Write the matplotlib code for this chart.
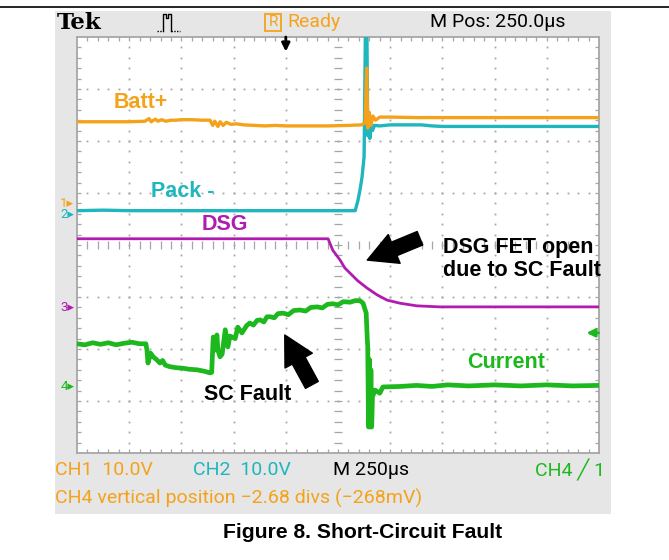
import numpy as np
import matplotlib
matplotlib.use("Agg")
import matplotlib.pyplot as plt
from matplotlib.patches import FancyArrowPatch, Rectangle, ArrowStyle
from matplotlib.lines import Line2D

# ---------------- data (x, y in scope divisions) ----------------
batt_x = [0, 0.5, 1.0, 1.3, 1.38, 1.42, 1.5, 1.55, 1.62, 1.7, 1.8, 1.9, 2.0, 2.2, 2.4,
          2.55, 2.6, 2.64, 2.7, 2.74, 2.8, 2.86, 2.95, 3.05, 3.2, 3.4, 3.6, 3.8, 4.0,
          4.4, 4.8, 5.2, 5.45, 5.52, 5.55, 5.57, 5.6, 5.63, 5.67, 5.72, 5.8, 6.0, 6.5,
          7.0, 8.0, 9.0, 10.0]
batt_y = [6.37, 6.37, 6.37, 6.38, 6.43, 6.37, 6.42, 6.38, 6.41, 6.38, 6.40, 6.40, 6.41,
          6.41, 6.40, 6.40, 6.30, 6.38, 6.28, 6.37, 6.30, 6.36, 6.32, 6.33, 6.31, 6.30,
          6.29, 6.30, 6.29, 6.29, 6.29, 6.30, 6.31, 6.35, 7.40, 6.25, 6.55, 6.30, 6.48,
          6.40, 6.46, 6.46, 6.45, 6.45, 6.45, 6.45, 6.45]

pack_x = [0, 0.5, 1.0, 2.0, 3.0, 4.0, 5.0, 5.33, 5.38, 5.42, 5.46, 5.5, 5.53, 5.55,
          5.57, 5.59, 5.61, 5.63, 5.66, 5.7, 5.8, 6.0, 6.6, 6.8, 7.0, 8.0, 10.0]
pack_y = [4.66, 4.67, 4.66, 4.66, 4.66, 4.66, 4.66, 4.66, 4.85, 5.05, 5.3, 5.7, 8.6,
          8.6, 6.1, 6.5, 6.05, 6.4, 6.2, 6.3, 6.29, 6.31, 6.31, 6.29, 6.28, 6.28, 6.28]

dsg_x = [0, 1, 2, 3, 4, 4.5, 4.81, 4.90, 5.04, 5.13, 5.23, 5.38, 5.56, 5.75, 5.94,
         6.19, 6.51, 6.95, 8, 9, 10]
dsg_y = [4.12, 4.12, 4.12, 4.12, 4.12, 4.12, 4.12, 3.90, 3.71, 3.56, 3.46, 3.31, 3.17,
         3.04, 2.94, 2.88, 2.83, 2.81, 2.81, 2.81, 2.81]

cur_x = [0, 0.15, 0.3, 0.45, 0.6, 0.75, 0.9, 1.05, 1.2, 1.32, 1.34, 1.36, 1.41, 1.46,
         1.53, 1.59, 1.64, 1.69, 1.78, 1.9, 2.03, 2.15, 2.30, 2.45, 2.55, 2.58, 2.61,
         2.65, 2.68, 2.70, 2.74, 2.78, 2.84, 2.89, 2.93, 2.97, 3.03, 3.08, 3.16, 3.25,
         3.31, 3.38, 3.45, 3.51, 3.58, 3.64, 3.70, 3.78, 3.85, 3.95, 4.05, 4.15, 4.27,
         4.38, 4.48, 4.60, 4.70, 4.80, 4.90, 5.0, 5.1, 5.23, 5.33, 5.42, 5.48, 5.54,
         5.56, 5.57, 5.585, 5.60, 5.615, 5.63, 5.645, 5.66, 5.71, 5.80, 5.86, 6.2,
         6.5, 6.8, 7.1, 7.5, 8.0, 8.5, 9.0, 9.5, 10.0]
cur_y = [2.10, 2.08, 2.12, 2.09, 2.12, 2.08, 2.11, 2.13, 2.10, 2.10, 1.98, 1.73, 1.92,
         1.85, 1.79, 1.73, 1.78, 1.69, 1.66, 1.64, 1.63, 1.61, 1.60, 1.57, 1.54, 1.55,
         2.23, 1.98, 2.27, 1.98, 1.85, 1.90, 2.37, 2.04, 2.25, 2.23, 2.20, 2.42, 2.31,
         2.45, 2.50, 2.46, 2.55, 2.56, 2.52, 2.62, 2.62, 2.60, 2.68, 2.69, 2.66, 2.74,
         2.75, 2.73, 2.80, 2.81, 2.79, 2.86, 2.87, 2.85, 2.91, 2.90, 2.93, 2.93, 2.88,
         2.69, 2.21, 2.04, 0.50, 1.8, 0.5, 1.6, 0.5, 1.08, 1.21, 1.15, 1.27, 1.28,
         1.30, 1.28, 1.31, 1.29, 1.31, 1.29, 1.31, 1.29, 1.30]

channel_labels = ["1", "2", "3", "4"]
channel_levels = [4.80, 4.58, 2.79, 1.27]
trigger_level = 2.31
trigger_pos = 4.0

header_texts = ["Tek", "Ready", "M Pos: 250.0\u00b5s"]
footer_texts = ["CH1  10.0V", "CH2  10.0V", "M 250\u00b5s", "CH4 \u2571 1"]
status_text = "CH4 vertical position \u22122.68 divs (\u2212268mV)"
caption = "Figure 8. Short-Circuit Fault"

# ---------------- style ----------------
ORANGE = "#f5a21b"
CYAN = "#1fb6be"
MAGENTA = "#b01cb0"
GREEN = "#1db81d"
GRID = "#a6a6a6"
SCREEN = "#e6e6e6"
NARROW = ["Roboto", "DejaVu Sans"]
BOLD = ["Liberation Sans", "DejaVu Sans"]
SCOPE_FS = 14

W, H = 669, 560
fig = plt.figure(figsize=(W / 100, H / 100), dpi=100)
fig.patch.set_facecolor("white")


def fx(px):
    return px / W


def fy(py):
    return 1 - py / H


fig.add_artist(Line2D([0, 1], [fy(7), fy(7)], color="black", lw=1.2))

# screen area in pixel coordinates (y downwards)
scr = fig.add_axes([fx(55), fy(514), fx(611) - fx(55), fy(11) - fy(514)])
scr.set_facecolor(SCREEN)
scr.set_xlim(55, 611)
scr.set_ylim(514, 11)
for s in scr.spines.values():
    s.set_visible(False)
scr.set_xticks([])
scr.set_yticks([])

# graticule
ax = fig.add_axes([fx(77), fy(453), fx(599) - fx(77), fy(37) - fy(453)])
ax.set_xlim(0, 10)
ax.set_ylim(0, 8)
ax.set_facecolor("white")
for s in ax.spines.values():
    s.set_color(GRID)
    s.set_linewidth(1.3)
ax.set_xticks([])
ax.set_yticks([])

mx = np.arange(0.2, 9.99, 0.2)
my = np.arange(0.2, 7.99, 0.2)
for gx in [1, 2, 3, 4, 6, 7, 8, 9]:
    ax.plot(np.full_like(my, gx), my, ls="none", marker="s", ms=1.3, mew=0, color=GRID)
for gy in [1, 2, 3, 5, 6, 7]:
    ax.plot(mx, np.full_like(mx, gy), ls="none", marker="s", ms=1.3, mew=0, color=GRID)
ax.hlines(my, 5 - 0.07, 5 + 0.07, color=GRID, lw=0.9)
ax.vlines(mx, 4 - 0.07, 4 + 0.07, color=GRID, lw=0.9)
ax.vlines(mx, 8 - 0.08, 8, color=GRID, lw=0.9)
ax.vlines(mx, 0, 0.08, color=GRID, lw=0.9)
ax.hlines(my, 0, 0.08, color=GRID, lw=0.9)
ax.hlines(my, 10 - 0.08, 10, color=GRID, lw=0.9)

# traces
ax.plot(dsg_x, dsg_y, color=MAGENTA, lw=2.0, zorder=3)
ax.plot(cur_x, cur_y, color=GREEN, lw=3.4, zorder=3)
ax.plot(pack_x, pack_y, color=CYAN, lw=2.4, zorder=4)
ax.plot(batt_x, batt_y, color=ORANGE, lw=2.4, zorder=5)

# channel markers
marker_colors = [ORANGE, CYAN, MAGENTA, GREEN]
for lab, lev, c in zip(channel_labels, channel_levels, marker_colors):
    ax.text(-0.005, lev, lab + "\u25b8", transform=ax.get_yaxis_transform(),
            ha="right", va="center", color=c, fontsize=9.5, family=NARROW, clip_on=False)
ax.annotate("", xy=(9.76, trigger_level), xytext=(9.99, trigger_level),
            arrowprops=dict(arrowstyle="-|>", color=GREEN, lw=2.0, mutation_scale=12,
                            shrinkA=0, shrinkB=0))
ax.annotate("", xy=(trigger_pos, 7.72), xytext=(trigger_pos, 8.0),
            arrowprops=dict(arrowstyle="-|>", color="black", lw=2.0, mutation_scale=12,
                            shrinkA=0, shrinkB=0))

# annotations
af = dict(fontsize=15.5, fontweight="bold", family=BOLD)
ax.text(1.23, 6.75, "Batt+", color=ORANGE, ha="center", va="center", **af)
ax.text(2.03, 5.02, "Pack -", color=CYAN, ha="center", va="center", **af)
ax.text(2.84, 4.40, "DSG", color=MAGENTA, ha="center", va="center", **af)
ax.text(7.01, 3.96, "DSG FET open", color="black", ha="left", va="center", **af)
ax.text(7.01, 3.50, "due to SC Fault", color="black", ha="left", va="center", **af)
ax.text(3.26, 1.12, "SC Fault", color="black", ha="center", va="center", **af)
ax.text(8.22, 1.75, "Current", color=GREEN, ha="center", va="center", **af)

arr = ArrowStyle.Simple(head_length=1.5, head_width=1.6, tail_width=0.75)
for tail, head in [((6.57, 4.13), (5.56, 3.71)), ((4.50, 1.31), (3.98, 2.27))]:
    ax.add_patch(FancyArrowPatch(tail, head, arrowstyle=arr, mutation_scale=14,
                                 color="black", shrinkA=0, shrinkB=0, zorder=6))

# header
scr.text(57, 23, header_texts[0], family=["DejaVu Serif"], fontweight="bold",
         fontsize=16.5, va="center", ha="left", color="black")
px_ = [157, 163, 163, 166, 166, 168, 168, 171, 171, 180]
py_ = [31, 31, 14, 14, 18, 18, 14, 14, 31, 31]
scr.plot(px_[:2], py_[:2], color="black", lw=1, ls=(0, (1, 1)))
scr.plot(px_[1:9], py_[1:9], color="black", lw=1)
scr.plot(px_[8:], py_[8:], color="black", lw=1, ls=(0, (1, 1)))
scr.add_patch(Rectangle((265, 14), 16, 17, fill=False, ec=ORANGE, lw=1.3))
scr.text(273, 22.5, "R", color=ORANGE, fontsize=11, family=NARROW, ha="center", va="center")
scr.text(287, 22, header_texts[1], color=ORANGE, fontsize=SCOPE_FS, family=NARROW,
         ha="left", va="center")
scr.text(430, 22, header_texts[2], color="black", fontsize=SCOPE_FS, family=NARROW,
         ha="left", va="center")

# footer
fcols = [ORANGE, CYAN, "black", GREEN]
fxs = [55, 193, 333, 535]
for t, c, x in zip(footer_texts, fcols, fxs):
    scr.text(x, 470, t, color=c, fontsize=SCOPE_FS, family=NARROW, ha="left",
             va="center", clip_on=True)
scr.text(55, 498, status_text, color=ORANGE, fontsize=SCOPE_FS, family=NARROW,
         ha="left", va="center")

fig.text(fx(363), fy(533), caption, ha="center", va="center", fontsize=15.2,
         fontweight="bold", family=BOLD)

fig.savefig("out.png", dpi=100, facecolor="white")
